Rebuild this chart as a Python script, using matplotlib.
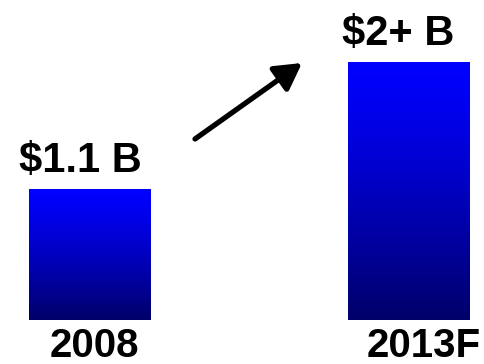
import matplotlib
matplotlib.use("Agg")
import matplotlib.pyplot as plt
import numpy as np

# data
years = ["2008", "2013F"]
values = [1.1, 2.17]          # "$2+ B" drawn a bit above 2
value_labels = ["$1.1 B", "$2+ B"]

plt.rcParams["font.family"] = ["Liberation Sans", "DejaVu Sans"]

fig = plt.figure(figsize=(4.85, 3.64), dpi=100)
ax = fig.add_axes([0, 0, 1, 1])
ax.set_xlim(-0.2826, 1.2402)
ax.set_ylim(-0.3695, 2.687)
ax.axis("off")

x = np.arange(len(years))
bars = ax.bar(x, values, width=0.383, color="none", edgecolor="none")

# vertical gradient: bright blue at the top, navy at the bottom
t = np.linspace(0, 1, 256)[:, None]
blue = (255 - 150 * t ** 1.25) / 255.0
grad = np.dstack([np.zeros_like(blue), np.zeros_like(blue), blue])
for b in bars:
    x0, y0 = b.get_x(), b.get_y()
    im = ax.imshow(grad, extent=[x0, x0 + b.get_width(), y0, y0 + b.get_height()],
                   origin="upper", aspect="auto", interpolation="bicubic", zorder=2)
    im.set_clip_path(b)

for xi, v, lab in zip(x, values, value_labels):
    ax.annotate(lab, (xi, v), xytext=(-10, 17), textcoords="offset pixels",
                ha="center", va="baseline", fontsize=30, fontweight="bold")

# year labels sit a little right of the bar centres
year_dx = [4, 15]
for xi, yr, dx in zip(x, years, year_dx):
    ax.annotate(yr, (xi, 0), xytext=(dx, -37), textcoords="offset pixels",
                ha="center", va="baseline", fontsize=29, fontweight="bold")

# growth arrow
ax.annotate("", xy=(0.6656, 2.158), xytext=(0.3297, 1.520),
            arrowprops=dict(arrowstyle="-|>,head_length=0.8,head_width=0.45",
                            lw=3.8, color="black", shrinkA=0, shrinkB=0,
                            mutation_scale=20))

fig.savefig("out.png", dpi=100)
